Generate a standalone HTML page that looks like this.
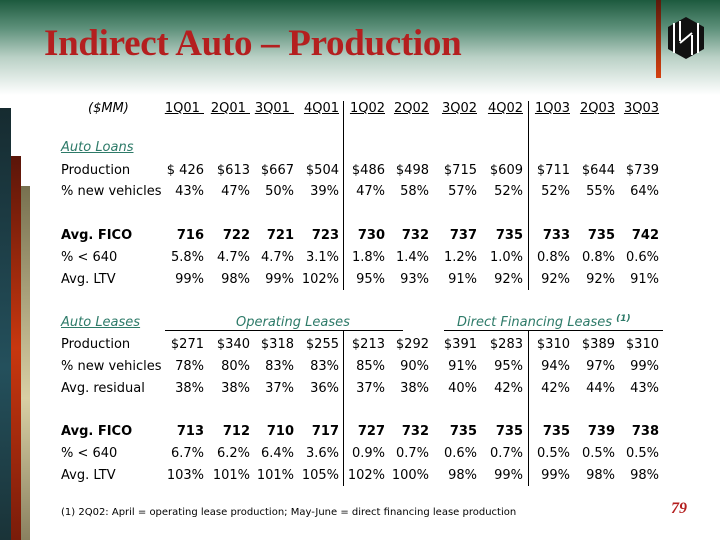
<!DOCTYPE html>
<html><head><meta charset="utf-8"><style>
body{margin:0;width:720px;height:540px;position:relative;overflow:hidden;background:#fff;font-family:"DejaVu Sans","Liberation Sans",sans-serif;font-size:13px;color:#000}
.hdr{position:absolute;left:0;top:0;width:720px;height:95px;background:linear-gradient(#1d5a3e 0%,#5e917b 30%,#b9d0c5 60%,#fff 100%)}
.title{position:absolute;left:44px;top:22px;font-family:"Liberation Serif",serif;font-weight:bold;font-size:37px;color:#b41f1f;letter-spacing:-0.3px}
.vline{position:absolute;left:656px;top:0;width:5px;height:78px;background:linear-gradient(#5c1a0c,#d4400f)}
.r{position:absolute;left:0;width:720px;height:16px;line-height:16px}
.l{position:absolute;left:61px}
.r span{position:absolute}
.c1{right:516px}.c2{right:470px}.c3{right:426px}.c4{right:381px}.c5{right:335px}.c6{right:291px}.c7{right:243px}.c8{right:197px}.c9{right:150px}.c10{right:105px}.c11{right:61px}
.b{font-weight:bold}
.h span{text-decoration:underline}
.sec{color:#2d7a68;font-style:italic;text-decoration:underline}
.vl{position:absolute;width:1px;background:#000}
</style></head><body>
<div class="hdr"></div>
<div class="title">Indirect Auto – Production</div>
<div class="vline"></div>
<svg style="position:absolute;left:668px;top:17px" width="36" height="42" viewBox="0 0 36 42">
<polygon points="18,0 36,10 36,32 18,42 0,32 0,10" fill="#111"/>
<g stroke="#fff" stroke-width="2"><line x1="6" y1="6" x2="6" y2="36"/><line x1="12" y1="4" x2="12" y2="24"/><line x1="24" y1="18" x2="24" y2="38"/><line x1="30" y1="6" x2="30" y2="36"/><line x1="12" y1="26" x2="24" y2="16"/></g>
</svg>
<div style="position:absolute;left:0;top:108px;width:11px;height:432px;background:linear-gradient(#162b30,#24505c 60%,#1a3338)"></div>
<div style="position:absolute;left:11px;top:156px;width:10px;height:384px;background:linear-gradient(#5a1509,#c8370f 50%,#7a1c0a)"></div>
<div style="position:absolute;left:21px;top:186px;width:9px;height:354px;background:linear-gradient(#77704f,#d8cfa4 60%,#8a8160)"></div>

<div class="r h" style="top:101px"><i style="position:absolute;left:88px;text-decoration:none">($MM)</i><span class="c1">1Q01&nbsp;</span><span class="c2">2Q01&nbsp;</span><span class="c3">3Q01&nbsp;</span><span class="c4">4Q01</span><span class="c5">1Q02</span><span class="c6">2Q02</span><span class="c7">3Q02</span><span class="c8">4Q02</span><span class="c9">1Q03</span><span class="c10">2Q03</span><span class="c11">3Q03</span></div>
<div class="r" style="top:140px"><span class="l sec">Auto Loans</span></div>
<div class="r" style="top:163px"><span class="l">Production</span><span class="c1">$ 426</span><span class="c2">$613</span><span class="c3">$667</span><span class="c4">$504</span><span class="c5">$486</span><span class="c6">$498</span><span class="c7">$715</span><span class="c8">$609</span><span class="c9">$711</span><span class="c10">$644</span><span class="c11">$739</span></div>
<div class="r" style="top:184px"><span class="l">% new vehicles</span><span class="c1">43%</span><span class="c2">47%</span><span class="c3">50%</span><span class="c4">39%</span><span class="c5">47%</span><span class="c6">58%</span><span class="c7">57%</span><span class="c8">52%</span><span class="c9">52%</span><span class="c10">55%</span><span class="c11">64%</span></div>
<div class="r b" style="top:228px"><span class="l">Avg. FICO</span><span class="c1">716</span><span class="c2">722</span><span class="c3">721</span><span class="c4">723</span><span class="c5">730</span><span class="c6">732</span><span class="c7">737</span><span class="c8">735</span><span class="c9">733</span><span class="c10">735</span><span class="c11">742</span></div>
<div class="r" style="top:250px"><span class="l">% &lt; 640</span><span class="c1">5.8%</span><span class="c2">4.7%</span><span class="c3">4.7%</span><span class="c4">3.1%</span><span class="c5">1.8%</span><span class="c6">1.4%</span><span class="c7">1.2%</span><span class="c8">1.0%</span><span class="c9">0.8%</span><span class="c10">0.8%</span><span class="c11">0.6%</span></div>
<div class="r" style="top:272px"><span class="l">Avg. LTV</span><span class="c1">99%</span><span class="c2">98%</span><span class="c3">99%</span><span class="c4">102%</span><span class="c5">95%</span><span class="c6">93%</span><span class="c7">91%</span><span class="c8">92%</span><span class="c9">92%</span><span class="c10">92%</span><span class="c11">91%</span></div>

<div class="r" style="top:315px"><span class="l sec">Auto Leases</span><span style="left:236px;color:#2d7a68;font-style:italic">Operating Leases</span><span style="left:457px;color:#2d7a68;font-style:italic">Direct Financing Leases <b style="font-size:9px;position:relative;top:-5px">(1)</b></span></div>
<div style="position:absolute;left:165px;top:330px;width:238px;height:1px;background:#000"></div>
<div style="position:absolute;left:444px;top:330px;width:219px;height:1px;background:#000"></div>
<div class="r" style="top:337px"><span class="l">Production</span><span class="c1">$271</span><span class="c2">$340</span><span class="c3">$318</span><span class="c4">$255</span><span class="c5">$213</span><span class="c6">$292</span><span class="c7">$391</span><span class="c8">$283</span><span class="c9">$310</span><span class="c10">$389</span><span class="c11">$310</span></div>
<div class="r" style="top:359px"><span class="l">% new vehicles</span><span class="c1">78%</span><span class="c2">80%</span><span class="c3">83%</span><span class="c4">83%</span><span class="c5">85%</span><span class="c6">90%</span><span class="c7">91%</span><span class="c8">95%</span><span class="c9">94%</span><span class="c10">97%</span><span class="c11">99%</span></div>
<div class="r" style="top:381px"><span class="l">Avg. residual</span><span class="c1">38%</span><span class="c2">38%</span><span class="c3">37%</span><span class="c4">36%</span><span class="c5">37%</span><span class="c6">38%</span><span class="c7">40%</span><span class="c8">42%</span><span class="c9">42%</span><span class="c10">44%</span><span class="c11">43%</span></div>
<div class="r b" style="top:424px"><span class="l">Avg. FICO</span><span class="c1">713</span><span class="c2">712</span><span class="c3">710</span><span class="c4">717</span><span class="c5">727</span><span class="c6">732</span><span class="c7">735</span><span class="c8">735</span><span class="c9">735</span><span class="c10">739</span><span class="c11">738</span></div>
<div class="r" style="top:446px"><span class="l">% &lt; 640</span><span class="c1">6.7%</span><span class="c2">6.2%</span><span class="c3">6.4%</span><span class="c4">3.6%</span><span class="c5">0.9%</span><span class="c6">0.7%</span><span class="c7">0.6%</span><span class="c8">0.7%</span><span class="c9">0.5%</span><span class="c10">0.5%</span><span class="c11">0.5%</span></div>
<div class="r" style="top:468px"><span class="l">Avg. LTV</span><span class="c1">103%</span><span class="c2">101%</span><span class="c3">101%</span><span class="c4">105%</span><span class="c5">102%</span><span class="c6">100%</span><span class="c7">98%</span><span class="c8">99%</span><span class="c9">99%</span><span class="c10">98%</span><span class="c11">98%</span></div>

<div class="vl" style="left:343px;top:101px;height:189px"></div>
<div class="vl" style="left:343px;top:331px;height:155px"></div>
<div class="vl" style="left:528px;top:101px;height:189px"></div>
<div class="vl" style="left:528px;top:331px;height:155px"></div>

<div style="position:absolute;left:61px;top:507px;font-size:10px">(1) 2Q02: April = operating lease production; May-June = direct financing lease production</div>
<div style="position:absolute;left:671px;top:500px;font-family:'Liberation Serif',serif;font-style:italic;font-weight:bold;font-size:16px;color:#b41f1f">79</div>
</body></html>
